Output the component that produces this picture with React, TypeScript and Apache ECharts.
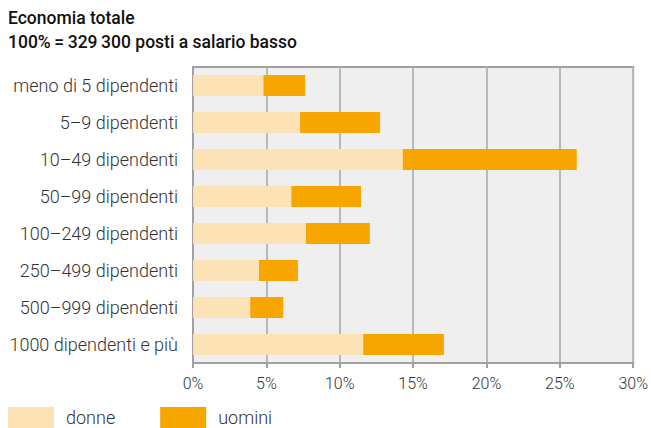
import React, { useEffect, useRef } from "react";
import * as echarts from "echarts";

const categories = [
  "meno di 5 dipendenti",
  "5–9 dipendenti",
  "10–49 dipendenti",
  "50–99 dipendenti",
  "100–249 dipendenti",
  "250–499 dipendenti",
  "500–999 dipendenti",
  "1000 dipendenti e più",
];
const donne = [4.8, 7.3, 14.3, 6.7, 7.7, 4.5, 3.9, 11.6];
const uomini = [2.85, 5.45, 11.85, 4.75, 4.35, 2.65, 2.25, 5.5];
const xTicks = { min: 0, max: 30, interval: 5 };
const titleLines = ["Economia totale", "100%\u2009=\u2009329\u2009300 posti a salario basso"];
const seriesNames = ["donne", "uomini"];

export default function App() {
  const ref = useRef<HTMLDivElement>(null);
  useEffect(() => {
    if (!ref.current) return;
    const chart = echarts.init(ref.current, undefined, { renderer: "svg" });
    chart.setOption({
      animation: false,
      textStyle: { fontFamily: "Roboto" },
      title: {
        text: titleLines.join("\n"),
        left: 8,
        top: 6,
        padding: 0,
        textStyle: { fontSize: 17.5, fontWeight: 500, color: "#111", lineHeight: 24, fontFamily: "Roboto" },
      },
      legend: {
        left: 8,
        top: 407,
        padding: 0,
        itemWidth: 46,
        itemHeight: 21,
        itemGap: 45,
        icon: "rect",
        textStyle: { fontSize: 18, color: "#333", fontWeight: 300, padding: [0, 0, 0, 7] },
        data: seriesNames,
      },
      grid: {
        left: 193,
        top: 67,
        right: 17,
        bottom: 65,
        show: true,
        backgroundColor: "#efefef",
        borderColor: "#a0a0a0",
        borderWidth: 2,
      },
      xAxis: {
        type: "value",
        min: xTicks.min,
        max: xTicks.max,
        interval: xTicks.interval,
        axisLine: { show: true, lineStyle: { color: "#a0a0a0", width: 2 } },
        axisTick: { show: true, length: 5, lineStyle: { color: "#a0a0a0", width: 2 } },
        splitLine: { show: true, lineStyle: { color: "#b8b8b8", width: 2 } },
        axisLabel: { formatter: "{value}%", fontSize: 16, color: "#333", fontWeight: 300, margin: 12 },
      },
      yAxis: {
        type: "category",
        inverse: true,
        data: categories,
        axisLine: { show: true, lineStyle: { color: "#a0a0a0", width: 2 } },
        axisTick: { show: false },
        axisLabel: { fontSize: 18, color: "#333", fontWeight: 300, margin: 15 },
      },
      series: [
        {
          name: seriesNames[0],
          type: "bar",
          stack: "total",
          data: donne,
          barWidth: 21,
          itemStyle: { color: "#fde2b6" },
        },
        {
          name: seriesNames[1],
          type: "bar",
          stack: "total",
          data: uomini,
          barWidth: 21,
          itemStyle: { color: "#f7a600" },
        },
      ],
    });
    return () => chart.dispose();
  }, []);
  return (
    <div
      ref={ref}
      style={{ position: "absolute", left: 0, top: 0, width: 651, height: 428 }}
    />
  );
}
